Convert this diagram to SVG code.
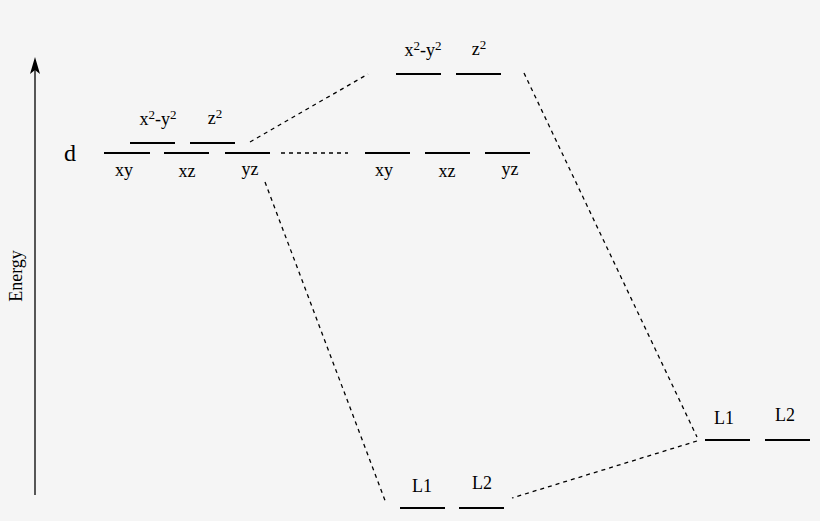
<svg xmlns="http://www.w3.org/2000/svg" width="820" height="521" viewBox="0 0 820 521">
<style>
.lv{stroke:#000;stroke-width:2;fill:none}
.ds{stroke:#000;stroke-width:1.3;stroke-dasharray:4,4;fill:none}
text{font-family:"Liberation Serif","Times New Roman",serif;font-size:18px;fill:#000;text-anchor:middle}
.sp{font-size:13px}
</style>
<rect width="820" height="521" fill="#f5f5f5"/>
<g id="axis">
<line x1="35" y1="495" x2="35" y2="62" stroke="#000" stroke-width="1.3"/>
<path d="M35,57 L40,74 L35,70 L30,74 Z" fill="#000"/>
<text transform="translate(22,276) rotate(-90)" style="font-size:18px">Energy</text>
</g>
<g id="connectors">
<line class="ds" x1="250" y1="142" x2="368" y2="74"/>
<line class="ds" x1="281" y1="153" x2="348" y2="153"/>
<line class="ds" x1="265" y1="182" x2="386" y2="503"/>
<line class="ds" x1="524" y1="73" x2="697" y2="437"/>
<line class="ds" x1="697" y1="441" x2="512" y2="498"/>
</g>
<g id="metal-d">
<text x="70" y="161" style="font-size:24px">d</text>
<line class="lv" x1="104" y1="153" x2="150" y2="153"/>
<line class="lv" x1="164" y1="153" x2="209" y2="153"/>
<line class="lv" x1="225" y1="153" x2="270" y2="153"/>
<line class="lv" x1="130" y1="143" x2="175" y2="143"/>
<line class="lv" x1="190" y1="143" x2="235" y2="143"/>
<text x="124" y="176">xy</text>
<text x="187" y="177">xz</text>
<text x="250" y="175">yz</text>
<text x="158" y="125">x<tspan class="sp" dy="-6">2</tspan><tspan dy="6">-y</tspan><tspan class="sp" dy="-6">2</tspan></text>
<text x="215" y="124">z<tspan class="sp" dy="-6">2</tspan></text>
</g>
<g id="complex-t2g">
<line class="lv" x1="365" y1="153" x2="410" y2="153"/>
<line class="lv" x1="425" y1="153" x2="470" y2="153"/>
<line class="lv" x1="485" y1="153" x2="530" y2="153"/>
<text x="384" y="176">xy</text>
<text x="447" y="177">xz</text>
<text x="510" y="175">yz</text>
</g>
<g id="complex-eg">
<line class="lv" x1="396" y1="74" x2="441" y2="74"/>
<line class="lv" x1="456" y1="74" x2="501" y2="74"/>
<text x="423" y="56">x<tspan class="sp" dy="-6">2</tspan><tspan dy="6">-y</tspan><tspan class="sp" dy="-6">2</tspan></text>
<text x="479" y="55">z<tspan class="sp" dy="-6">2</tspan></text>
</g>
<g id="ligand-low">
<line class="lv" x1="400" y1="508" x2="445" y2="508"/>
<line class="lv" x1="459" y1="508" x2="504" y2="508"/>
<text x="422" y="492">L1</text>
<text x="482" y="489">L2</text>
</g>
<g id="ligand-right">
<line class="lv" x1="705" y1="440" x2="750" y2="440"/>
<line class="lv" x1="765" y1="440" x2="810" y2="440"/>
<text x="724" y="424">L1</text>
<text x="785" y="421">L2</text>
</g>
</svg>
